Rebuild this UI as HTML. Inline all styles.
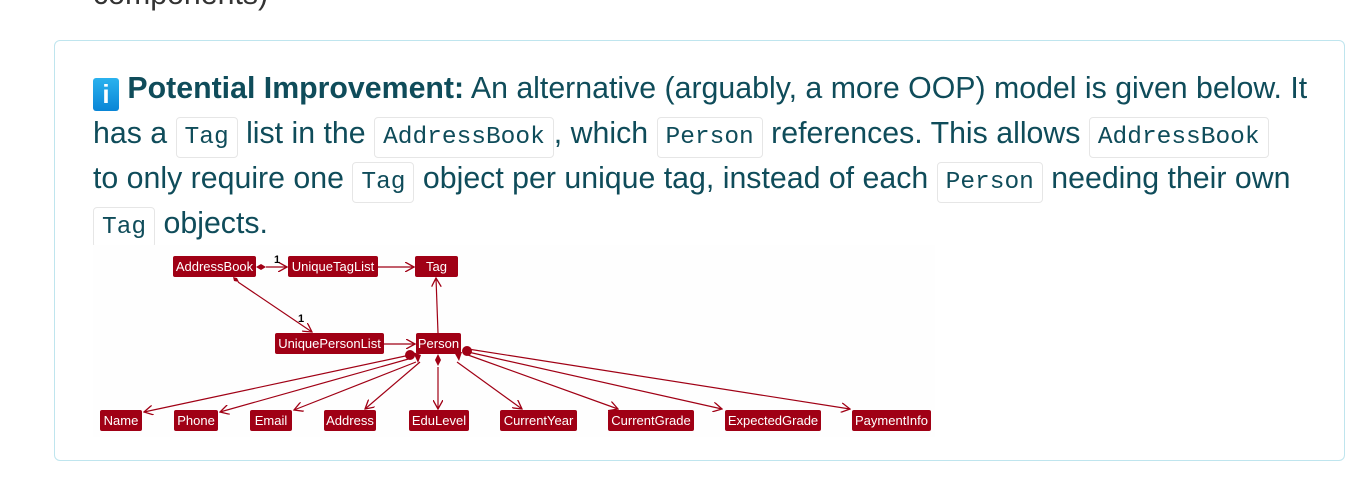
<!DOCTYPE html>
<html><head><meta charset="utf-8"><style>
body{margin:0;width:1372px;height:492px;background:#fff;position:relative;overflow:hidden;font-family:"Liberation Sans",sans-serif;}
.box{position:absolute;left:54px;top:40px;width:1291px;height:421px;border:1.5px solid #bfe5ee;border-radius:6px;box-sizing:border-box;}
.ln{position:absolute;left:93px;white-space:nowrap;font-size:30.3px;color:#0f4c5a;height:45px;line-height:45px;}
code{font-family:"Liberation Mono",monospace;font-size:24.5px;border:1.5px solid #e6e6e6;border-radius:4px;padding:6px 8px;background:#fff;}
.ic{display:inline-block;width:26px;height:33px;background:linear-gradient(#2bb2ee,#0a85d6);border-radius:3px;color:#fff;font-weight:bold;text-align:center;line-height:33px;vertical-align:-5px;font-size:26px;}
svg text{font-family:"Liberation Sans",sans-serif;font-size:13px;fill:#fff;text-anchor:middle;}
</style></head><body>
<div class="ln" style="top:-28px;color:#333">components)</div>
<div class="box"></div>
<div class="ln" style="top:66px"><span class="ic">i</span> <b>Potential Improvement:</b> An alternative (arguably, a more OOP) model is given below. It</div>
<div class="ln" style="top:111px">has a <code>Tag</code> list in the <code>AddressBook</code>, which <code>Person</code> references. This allows <code>AddressBook</code></div>
<div class="ln" style="top:156px">to only require one <code>Tag</code> object per unique tag, instead of each <code>Person</code> needing their own</div>
<div class="ln" style="top:201px"><code>Tag</code> objects.</div>
<svg style="position:absolute;left:0;top:0" width="1372" height="492">
<defs><marker id="a" markerWidth="10" markerHeight="10" refX="9" refY="5" orient="auto" markerUnits="userSpaceOnUse"><path d="M0,0 L9,5 L0,10" fill="none" stroke="#a00015" stroke-width="1.3"/></marker></defs>
<rect x="93" y="245" width="842" height="192" fill="#fefefe"/>
<g stroke="#a00015" stroke-width="1.2" fill="none" marker-end="url(#a)">
<line x1="266" y1="267" x2="287" y2="267"/>
<line x1="378" y1="267" x2="414" y2="267"/>
<line x1="238" y1="282" x2="312" y2="332"/>
<line x1="384" y1="344" x2="415" y2="344"/>
<line x1="438" y1="333" x2="436" y2="278"/>
<line x1="410" y1="355" x2="144" y2="412"/>
<line x1="412" y1="358" x2="220" y2="412"/>
<line x1="416" y1="362" x2="294" y2="410"/>
<line x1="420" y1="362" x2="365" y2="409"/>
<line x1="438" y1="367" x2="438" y2="409"/>
<line x1="457" y1="362" x2="522" y2="409"/>
<line x1="468" y1="355" x2="618" y2="409"/>
<line x1="468" y1="352" x2="722" y2="409"/>
<line x1="468" y1="349" x2="850" y2="409"/>
</g>
<g fill="#a00015">
<path d="M256,267 l5,-3 l5,3 l-5,3z"/>
<path d="M233,277 l4,1 l2,4 l-5,-1z"/>
<path d="M438,354 l3,6 l-3,6 l-3,-6z"/>
<circle cx="410" cy="355" r="5"/><circle cx="467" cy="351" r="5"/>
<path d="M413,352 l8,3 l-3,8z"/><path d="M454,352 l8,0 l-3,9z"/>
<rect x="173" y="256" width="83" height="21" rx="2"/>
<rect x="288" y="256" width="90" height="21" rx="2"/>
<rect x="415" y="256" width="43" height="21" rx="2"/>
<rect x="275" y="333" width="109" height="21" rx="2"/>
<rect x="416" y="333" width="45" height="21" rx="2"/>
<rect x="100" y="410" width="42" height="21" rx="2"/>
<rect x="174" y="410" width="44" height="21" rx="2"/>
<rect x="250" y="410" width="42" height="21" rx="2"/>
<rect x="324" y="410" width="52" height="21" rx="2"/>
<rect x="409" y="410" width="60" height="21" rx="2"/>
<rect x="500" y="410" width="77" height="21" rx="2"/>
<rect x="608" y="410" width="86" height="21" rx="2"/>
<rect x="725" y="410" width="96" height="21" rx="2"/>
<rect x="852" y="410" width="79" height="21" rx="2"/>
</g>
<g>
<text x="214.5" y="271">AddressBook</text>
<text x="333" y="271">UniqueTagList</text>
<text x="436.5" y="271">Tag</text>
<text x="329.5" y="348">UniquePersonList</text>
<text x="438.5" y="348">Person</text>
<text x="121" y="425">Name</text>
<text x="196" y="425">Phone</text>
<text x="271" y="425">Email</text>
<text x="350" y="425">Address</text>
<text x="439" y="425">EduLevel</text>
<text x="538.5" y="425">CurrentYear</text>
<text x="651" y="425">CurrentGrade</text>
<text x="773" y="425">ExpectedGrade</text>
<text x="891.5" y="425">PaymentInfo</text>
<text x="277" y="263" style="fill:#000;font-size:11px;font-weight:bold">1</text>
<text x="301" y="322" style="fill:#000;font-size:11px;font-weight:bold">1</text>
</g>
</svg>
</body></html>
